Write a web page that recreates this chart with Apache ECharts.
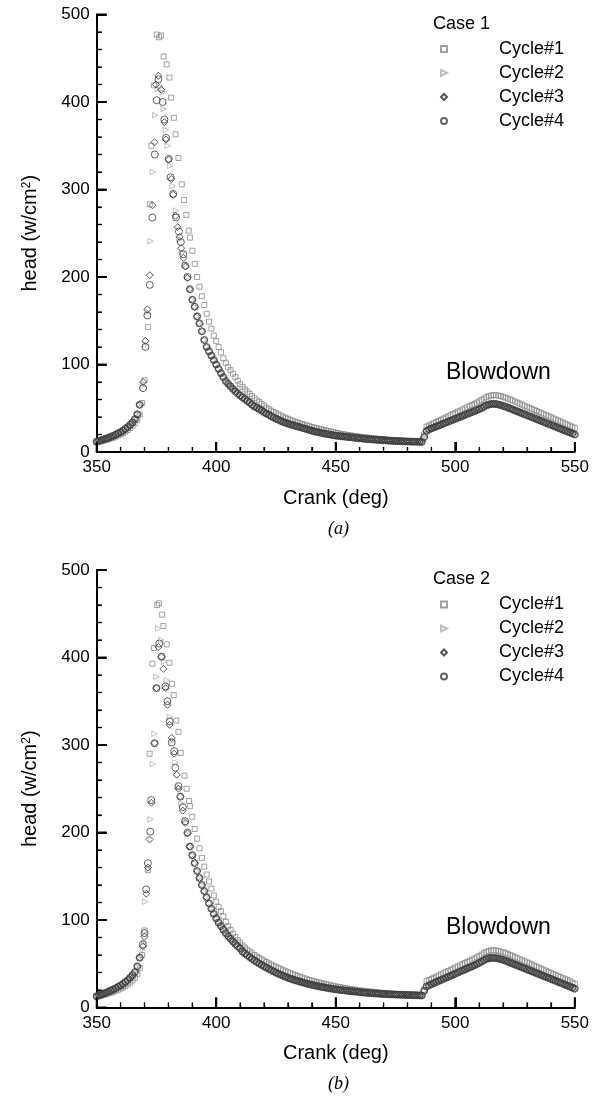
<!DOCTYPE html>
<html><head><meta charset="utf-8">
<script src="https://cdn.jsdelivr.net/npm/echarts@6/dist/echarts.min.js"></script>
<style>html,body{margin:0;padding:0;background:#fff}#c{width:592px;height:1099px}</style>
</head><body><div id="c"></div>
<script>
// ---------- Case 1 ----------
const case1DarkRise = [12,12.8,13.6,14.5,15.4,16.4,17.5,18.6,19.9,21.3,22.8,24.5,26.4,28.5,31,33.8,37.5,43,54]; // 350..368
const case1Cycle2Peak = [[369.4,76],[370.4,123],[371.2,160],[372.5,241],[373.5,320],[374.5,385],[375.5,415],[376.6,418],[377.6,411],[378,392],[379,368],[379.7,350],[380.7,327],[381.8,304],[383.2,276],[384.6,243],[385.8,228],[387,214],[388,200]];
const case1Cycle3Peak = [[369.4,80],[370.4,127],[371.2,163],[372.2,202],[373.3,282],[374.2,354],[374.8,420],[375.8,430],[377,414],[378.3,377],[379,357],[380.1,334],[381.2,312],[382,294],[383,270],[383.9,257],[384.7,246],[385.3,233],[386.3,222],[387.2,212],[388,199]];
const case1Cycle4Peak = [[369.4,73],[370.4,120],[371.2,156],[372.2,191],[373.3,268],[374.3,340],[375.1,402],[375.8,426],[377.6,400],[378.3,380],[379,359],[380.1,335],[380.9,314],[382,295],[383.2,268],[384.4,252],[385.2,240],[386.2,226],[387,213],[388,200]];
const case1DarkTail = [ // 389..550
186,174,166,155,147,138,128,120,115,110,105,100,
95,90,85.5,81,78,75,72,69.5,67,64.5,62.5,60.5,58.5,56.5,54,52,50.5,49,47.5,45.5,
44,42.5,41,39.5,38,37,35.5,34.3,33.4,32.5,31.6,30.8,30,29.2,28.4,27.6,26.8,26,25.2,24.4,
23.6,23,22.4,21.8,21.2,20.7,20.2,19.7,19.2,18.8,18.4,18.1,17.8,17.5,17.2,16.9,16.6,16.3,16,15.7,
15.4,15.1,14.8,14.6,14.4,14.2,14,13.8,13.6,13.4,13.2,13,12.9,12.7,12.5,12.4,12.3,12.2,12.1,12,11.9,11.8,11.8,11.7,11.6,11.5,
17,24,25.8,26.9,28,29.1,30.1,31.3,32.4,33.4,34.6,35.7,36.8,37.9,39,40,41.2,42.3,43.4,44.5,45.6,46.6,47.8,48.9,
50.2,51.8,53.2,54.2,54.8,55,54.8,54.3,53.6,52.8,51.8,50.8,49.7,48.6,47.5,46.4,45.3,44.2,43.1,42,
40.9,39.8,38.7,37.6,36.5,35.4,34.3,33.2,32.1,31,29.9,28.8,27.7,26.6,25.5,24.4,23.3,22.2,21.1,20];
const case1Cycle1Rise = [11,11.6,12.3,13,13.8,14.6,15.5,16.5,17.6,18.8,20.1,21.6,23.3,25.2,27.4,30,33,37,43]; // 350..368
const case1Cycle1Peak = [[369,56],[370,82],[371.5,143],[372.2,283],[372.9,350],[373.9,419],[375.1,477],[376.1,474],[376.9,476],[378,452],[379.3,443],[380.4,428],[381.1,405],[382.3,382],[383,363],[384.2,336],[385.6,306],[386.5,288],[387.5,271],[388.5,253]];
const case1Cycle1Tail = [ // 389..550
245,230,215,200,189,178,168,158,149,141,133,127,
120,114,107,102,97,93.5,89.5,85.5,81.5,77.5,74.5,71.5,69,66.5,64,61.5,59,57,55,53,
50.5,48.8,47.2,45.7,44.3,42.9,41.6,40.3,39.1,37.9,36.8,35.7,34.7,33.7,32.8,31.9,31,30.2,29.4,28.6,
27.9,27.2,26.5,25.8,25.1,24.5,23.9,23.3,22.7,22.1,21.5,21,20.5,20,19.5,19,18.6,18.2,17.8,17.4,
17,16.7,16.4,16.1,15.8,15.5,15.2,14.9,14.6,14.4,14.2,14,13.8,13.6,13.4,13.2,13,12.8,12.7,12.6,12.5,12.4,12.3,12.2,12.1,12,
20,29,30.3,31.6,32.9,34.2,35.5,36.8,38.1,39.4,40.7,42,43.3,44.6,45.9,47.2,48.5,49.8,51.1,52.4,53.7,55,56.4,57.8,
59.4,61,62.6,63.8,64.6,65,64.9,64.5,63.9,63.1,62.1,61,59.9,58.8,57.6,56.4,55.2,54,52.8,51.6,
50.4,49.2,48,46.8,45.6,44.4,43.2,42,40.8,39.6,38.4,37.2,36,34.8,33.6,32.4,31.2,30,28.8,27.6];

// ---------- Case 2 ----------
const case2DarkRise = [13,14,15,16,17,18.2,19.4,20.7,22.1,23.6,25.2,27,29,31.3,34,37,40.5,47,57];
const case2Cycle2Peak = [[369.3,66],[370,74.5],[370.3,121],[371.5,158],[372.5,215],[373.5,278],[374.2,313],[375,378],[375.8,433],[377,420],[378.2,395],[379.3,374],[380.7,332],[381.8,305],[383,280],[384.3,252],[385.5,233],[386.8,214],[388,198]];
const case2Cycle3Peak = [[369.3,70],[370,81],[370.7,130],[371.4,160],[372.1,192],[372.9,234],[374.2,302],[375,365],[375.8,412],[377.1,401],[377.9,387],[378.9,365],[379.6,346],[380.5,323],[381.4,308],[382.4,290],[383.5,266],[384.2,250],[385,241],[386,225],[387,211],[388,199]];
const case2Cycle4Peak = [[369.3,72],[370,85],[370.7,135],[371.4,165],[372.4,201],[372.8,237],[374.2,302],[375,365],[376.2,416],[377.1,401],[378.75,367],[379.6,350],[380.5,327],[381.4,303],[382.4,293],[382.9,274],[384.2,253],[385,241],[386,229],[387,213],[388,200]];
const case2DarkTail = [ // 389..550
184,174,165,156,148,140,133,126,119,113,107,102,
97,93,89,85,81.5,78.5,75.5,72.5,70,67.5,64,61.8,59.8,57.6,55.6,53.8,52,50.3,48.7,47.1,
45.6,44.1,42.7,41.3,39.9,38.6,37.4,36.2,35.1,34,33,32.1,31.2,30.4,29.6,28.8,28,27.3,26.6,26,
25.4,24.8,24.2,23.6,23.1,22.6,22.1,21.6,21.2,20.8,20.4,20,19.7,19.4,19.1,18.8,18.5,18.2,17.9,17.6,
17.3,17,16.8,16.6,16.4,16.2,16,15.8,15.6,15.4,15.2,15.1,15,14.9,14.8,14.7,14.6,14.5,14.4,14.3,14.2,14.1,14,13.9,13.8,13.7,
19,24,25.4,26.6,27.8,29,30.2,31.4,32.6,33.8,35,36.2,37.4,38.6,39.8,41,42.2,43.4,44.6,45.8,47,48.2,49.5,50.9,
52.4,54,55.4,56.3,56.7,56.8,56.5,56,55.3,54.5,53.5,52.4,51.3,50.2,49.1,48,46.9,45.8,44.7,43.6,
42.5,41.4,40.3,39.2,38.1,37,35.9,34.8,33.7,32.6,31.5,30.4,29.3,28.2,27.1,26,24.9,23.8,22.7,21.5];
const case2Cycle1Rise = [12,12.7,13.5,14.3,15.1,16,17,18,19.1,20.3,21.6,23,24.6,26.4,28.5,31,34,38,45];
const case2Cycle1Peak = [[369,60],[370,88],[371.4,157],[372.1,290],[373.3,393],[374,411],[375.3,460],[376,462],[377.4,449],[377.9,436],[379.3,415],[380.4,394],[381.5,370],[382.2,357],[383.3,328],[384.2,315],[385.1,291],[386.7,265],[387.6,250],[388.6,236]];
const case2Cycle1Tail = [ // 389..550
230,218,204,193,182,171,161,152,144,136,128,121,
115,110,104,98,93,88.5,84.5,80.5,77,74,71,68.5,66,64,62,60,58.2,56.6,55,53.5,
52,50.5,49,47.7,46.4,45.1,43.8,42.6,41.4,40.2,39.1,38,37,36,35,34.1,33.2,32.3,31.5,30.7,
29.9,29.2,28.5,27.8,27.1,26.5,25.9,25.3,24.7,24.1,23.6,23.1,22.6,22.1,21.6,21.2,20.8,20.4,20,19.6,
19.2,18.9,18.6,18.3,18,17.7,17.4,17.1,16.8,16.6,16.4,16.2,16,15.8,15.6,15.4,15.2,15,14.9,14.8,14.7,14.6,14.5,14.4,14.3,14.2,
20,30,31.3,32.6,33.9,35.2,36.5,37.8,39.1,40.4,41.7,43,44.3,45.6,46.9,48.2,49.5,50.8,52.1,53.4,54.7,56,57.4,58.9,
60.5,62.1,63.5,64.6,65.3,65.4,65.1,64.6,63.9,63.1,62.1,61,59.9,58.7,57.5,56.3,55.1,53.9,52.7,51.5,
50.3,49.1,47.9,46.7,45.5,44.3,43.1,41.9,40.7,39.5,38.3,37.1,35.9,34.7,33.5,32.3,31.1,29.9,28.5,27];

const cycleNames = ['Cycle#1','Cycle#2','Cycle#3','Cycle#4'];
const caseTitles = ['Case 1','Case 2'];
const captions = ['(a)','(b)'];
const xTicks = {min:350, max:550, interval:50};
const yTicks = {min:0, max:500, interval:100};
const xMajorTicks = [350,400,450,500,550];
const xMinorTicks = [360,370,380,390,410,420,430,440,460,470,480,490,510,520,530,540];
const yMajorTicks = [0,100,200,300,400,500];
const yMinorTicks = [20,40,60,80,120,140,160,180,220,240,260,280,320,340,360,380,420,440,460,480];

function seq(start, vals){ return vals.map((v,i)=>[start+i, v]); }

const FONT = '"Liberation Sans", Arial, sans-serif';
const styles = [
  {symbol:'rect', size:5, color:'#8a8a8a', rotate:0, icon:'rect'},
  {symbol:'triangle', size:5.5, color:'#b0b0b0', rotate:-90, icon:'path://M0,0L10,5L0,10Z'},
  {symbol:'diamond', size:7, color:'#2e2e2e', rotate:0, icon:'diamond'},
  {symbol:'circle', size:7, color:'#3c3c3c', rotate:0, icon:'circle'}
];
const cases = [
  {c1:[case1Cycle1Rise,case1Cycle1Peak,case1Cycle1Tail], rise:case1DarkRise, peaks:[case1Cycle2Peak,case1Cycle3Peak,case1Cycle4Peak], tail:case1DarkTail},
  {c1:[case2Cycle1Rise,case2Cycle1Peak,case2Cycle1Tail], rise:case2DarkRise, peaks:[case2Cycle2Peak,case2Cycle3Peak,case2Cycle4Peak], tail:case2DarkTail}
];
const gridTops = [14.5, 570];
const gridH = 437.5;

const series = [];
cases.forEach((cs, gi)=>{
  const datas = [
    seq(350, cs.c1[0]).concat(cs.c1[1], seq(389, cs.c1[2])),
    seq(350, cs.rise).concat(cs.peaks[0], seq(389, cs.tail)),
    seq(350, cs.rise).concat(cs.peaks[1], seq(389, cs.tail)),
    seq(350, cs.rise).concat(cs.peaks[2], seq(389, cs.tail))
  ];
  datas.forEach((d, k)=>{
    const s = styles[k];
    series.push({
      name: cycleNames[k], type:'scatter', xAxisIndex:gi, yAxisIndex:gi,
      data:d, symbol:s.symbol, symbolSize:s.size, symbolRotate:s.rotate,
      itemStyle:{color:'rgba(255,255,255,0)', borderColor:s.color, borderWidth:1}
    });
  });
});

function xAxis(gi){
  return {type:'value', gridIndex:gi, min:xTicks.min, max:xTicks.max, interval:xTicks.interval,
    name:'Crank (deg)', nameLocation:'middle', nameGap:36,
    nameTextStyle:{fontSize:20, color:'#000', fontFamily:FONT},
    axisLine:{show:true, lineStyle:{color:'#000', width:2}},
    axisTick:{show:true, inside:true, length:10, lineStyle:{color:'#000', width:2}},
    minorTick:{show:true, splitNumber:5, length:5, lineStyle:{color:'#000', width:1.2}},
    axisLabel:{fontSize:17, color:'#000', fontFamily:FONT, margin:7},
    splitLine:{show:false}};
}
function yAxis(gi){
  return {type:'value', gridIndex:gi, min:yTicks.min, max:yTicks.max, interval:yTicks.interval,
    name:'head (w/cm{sup|2})', nameLocation:'middle', nameGap:56,
    nameTextStyle:{fontSize:20, color:'#000', fontFamily:FONT,
      rich:{sup:{fontSize:12, verticalAlign:'top', lineHeight:12}}},
    axisLine:{show:true, lineStyle:{color:'#000', width:2}},
    axisTick:{show:true, inside:true, length:10, lineStyle:{color:'#000', width:2}},
    minorTick:{show:true, splitNumber:5, length:5, lineStyle:{color:'#000', width:1.2}},
    axisLabel:{fontSize:17, color:'#000', fontFamily:FONT, margin:7},
    splitLine:{show:false}};
}

const titles = [];
[0,1].forEach(gi=>{
  const off = gridTops[gi] - gridTops[0];
  titles.push({text:caseTitles[gi], left:433, top:15+off, padding:0,
    textStyle:{fontSize:18, fontWeight:'normal', color:'#000', fontFamily:FONT}});
  titles.push({text:'Blowdown', left:446, top:361+off, padding:0,
    textStyle:{fontSize:23, fontWeight:'normal', color:'#000', fontFamily:FONT}});
  titles.push({text:captions[gi], left:328, top:520+off, padding:0,
    textStyle:{fontSize:18, fontWeight:'normal', fontStyle:'italic', color:'#000', fontFamily:'"Liberation Serif", "Times New Roman", serif'}});
});

const legends = [0,1].map(gi=>({
  orient:'vertical', left:435, top:34 + (gridTops[gi]-gridTops[0]),
  itemWidth:6, itemHeight:6, itemGap:4, selectedMode:false,
  data:cycleNames.map((n,k)=>({name:n, icon:styles[k].icon})),
  textStyle:{fontSize:18, color:'#000', fontFamily:FONT, lineHeight:20, padding:[0,0,0,47]}
}));

const chart = echarts.init(document.getElementById('c'));
chart.setOption({
  backgroundColor:'#fff',
  animation:false,
  title:titles,
  grid:[
    {left:96.7, right:15, top:gridTops[0], height:gridH},
    {left:96.7, right:15, top:gridTops[1], height:gridH}
  ],
  xAxis:[xAxis(0), xAxis(1)],
  yAxis:[yAxis(0), yAxis(1)],
  legend:legends,
  series:series
});

// Inward tick marks positioned through the library's own axis scales
const tickLines = [];
[0,1].forEach(gi=>{
  const add = (vals, isX, len, w)=>{
    vals.forEach(v=>{
      const p = chart.convertToPixel({gridIndex:gi}, isX ? [v, yTicks.min] : [xTicks.min, v]);
      if (!p) return;
      tickLines.push({type:'line', silent:true, z:100,
        shape: isX ? {x1:p[0], y1:p[1], x2:p[0], y2:p[1]-len} : {x1:p[0], y1:p[1], x2:p[0]+len, y2:p[1]},
        style:{stroke:'#000', lineWidth:w}});
    });
  };
  add(xMajorTicks, true, 10, 2);
  add(xMinorTicks, true, 5, 1.2);
  add(yMajorTicks, false, 10, 2);
  add(yMinorTicks, false, 5, 1.2);
});
chart.setOption({graphic:tickLines});
</script></body></html>
